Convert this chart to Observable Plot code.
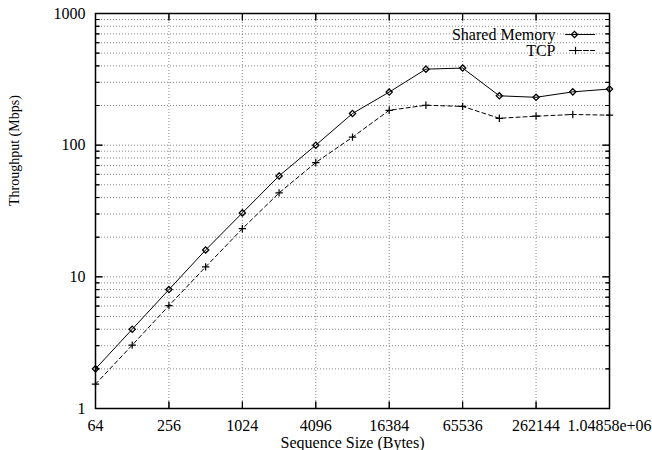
<!DOCTYPE html>
<html>
<head>
<meta charset="utf-8">
<script src="https://cdn.jsdelivr.net/npm/d3@7"></script>
<script src="https://cdn.jsdelivr.net/npm/@observablehq/plot@0.6"></script>
<style>
  html, body { margin: 0; padding: 0; background: white; }
  svg text { font-family: "Liberation Serif", "Times New Roman", serif; }
</style>
</head>
<body>
<div id="chart"></div>
<script>
const sizes = [64, 128, 256, 512, 1024, 2048, 4096, 8192, 16384, 32768, 65536, 131072, 262144, 524288, 1048576];
const sharedMemory = [2, 4, 8, 16, 30.6, 58.4, 100, 174, 253, 378, 385, 237, 231, 254, 267];
const tcp = [1.53, 3.03, 6.04, 11.9, 23.2, 43.4, 73.8, 115, 184, 201, 197, 160, 166, 171, 169];

const xTicks = [64, 256, 1024, 4096, 16384, 65536, 262144, 1048576];
const xTickLabels = ["64", "256", "1024", "4096", "16384", "65536", "262144", "1.04858e+06"];
const yTicks = [1, 10, 100, 1000];
const yTickLabels = ["1", "10", "100", "1000"];
const yMinor = [2, 3, 4, 5, 6, 7, 8, 9, 20, 30, 40, 50, 60, 70, 80, 90, 200, 300, 400, 500, 600, 700, 800, 900];
const seriesNames = ["Shared Memory", "TCP"];
const xTitle = "Sequence Size (Bytes)";
const yTitle = "Throughput (Mbps)";

const smData = sizes.map((s, i) => ({size: s, value: sharedMemory[i]}));
const tcpData = sizes.map((s, i) => ({size: s, value: tcp[i]}));
const yGrid = yTicks.concat(yMinor);

const serif = "Liberation Serif";
const tickCommon = {anchor: "start", shape: "spike", r: 0, stroke: "black", fill: "none", strokeWidth: 1};
const txt = {fontFamily: serif, fontSize: 16};

const chart = Plot.plot({
  width: 652,
  height: 450,
  marginLeft: 95,
  marginRight: 43,
  marginTop: 13,
  marginBottom: 42,
  style: "font-family: 'Liberation Serif', serif; font-size: 16px; background: white; color: black;",
  x: {type: "log", base: 2, domain: [64, 1048576]},
  y: {type: "log", domain: [1, 1000]},
  marks: [
    // grid
    Plot.ruleY(yGrid, {y: d => d, stroke: "#888", strokeWidth: 1, strokeDasharray: "1,2"}),
    Plot.ruleX(xTicks, {x: d => d, stroke: "#888", strokeWidth: 1, strokeDasharray: "1,2"}),
    // inward tick marks
    Plot.vector(yTicks, {y: d => d, frameAnchor: "left", rotate: 90, length: 7, ...tickCommon}),
    Plot.vector(yTicks, {y: d => d, frameAnchor: "right", rotate: -90, length: 7, ...tickCommon}),
    Plot.vector(yMinor, {y: d => d, frameAnchor: "left", rotate: 90, length: 4, ...tickCommon}),
    Plot.vector(yMinor, {y: d => d, frameAnchor: "right", rotate: -90, length: 4, ...tickCommon}),
    Plot.vector(xTicks, {x: d => d, frameAnchor: "bottom", rotate: 0, length: 7, ...tickCommon}),
    Plot.vector(xTicks, {x: d => d, frameAnchor: "top", rotate: 180, length: 7, ...tickCommon}),
    // axes labels
    Plot.axisX(xTicks, {anchor: "bottom", tickSize: 0, tickPadding: 11, tickFormat: (d) => xTickLabels[xTicks.indexOf(d)], label: null, ...txt}),
    Plot.axisY(yTicks, {anchor: "left", tickSize: 0, tickPadding: 10, tickFormat: (d) => yTickLabels[yTicks.indexOf(d)], label: null, ...txt}),
    Plot.text([xTitle], {text: d => d, frameAnchor: "bottom", dy: 34, lineAnchor: "middle", ...txt}),
    Plot.text([yTitle], {text: d => d, frameAnchor: "left", dx: -81, dy: -5, rotate: -90, lineAnchor: "middle", fontFamily: serif, fontSize: 14}),
    // data
    Plot.line(smData, {x: "size", y: "value", stroke: "black", strokeWidth: 1}),
    Plot.dot(smData, {x: "size", y: "value", symbol: "diamond2", r: 2.8, stroke: "black", strokeWidth: 1.3, fill: "none"}),
    Plot.line(tcpData, {x: "size", y: "value", stroke: "black", strokeWidth: 1, strokeDasharray: "4,3"}),
    Plot.dot(tcpData, {x: "size", y: "value", symbol: "plus", r: 2.5, stroke: "black", strokeWidth: 1.2}),
    // legend
    Plot.text([seriesNames[0]], {text: d => d, frameAnchor: "top-right", dx: -54, dy: 21, textAnchor: "end", lineAnchor: "middle", ...txt}),
    Plot.text([seriesNames[1]], {text: d => d, frameAnchor: "top-right", dx: -54, dy: 37, textAnchor: "end", lineAnchor: "middle", ...txt}),
    Plot.vector([0], {frameAnchor: "top-right", dx: -15, dy: 21, rotate: -90, length: 29, ...tickCommon}),
    Plot.vector([0], {frameAnchor: "top-right", dx: -15, dy: 37, rotate: -90, length: 26, ...tickCommon, strokeDasharray: "4,3"}),
    Plot.dot([0], {frameAnchor: "top-right", dx: -35, dy: 21, symbol: "diamond2", r: 2.8, stroke: "black", strokeWidth: 1.3, fill: "none"}),
    Plot.dot([0], {frameAnchor: "top-right", dx: -34, dy: 37, symbol: "plus", r: 2.5, stroke: "black", strokeWidth: 1.2}),
    Plot.frame({stroke: "black", strokeWidth: 1.5})
  ]
});
document.getElementById("chart").appendChild(chart);
</script>
</body>
</html>
